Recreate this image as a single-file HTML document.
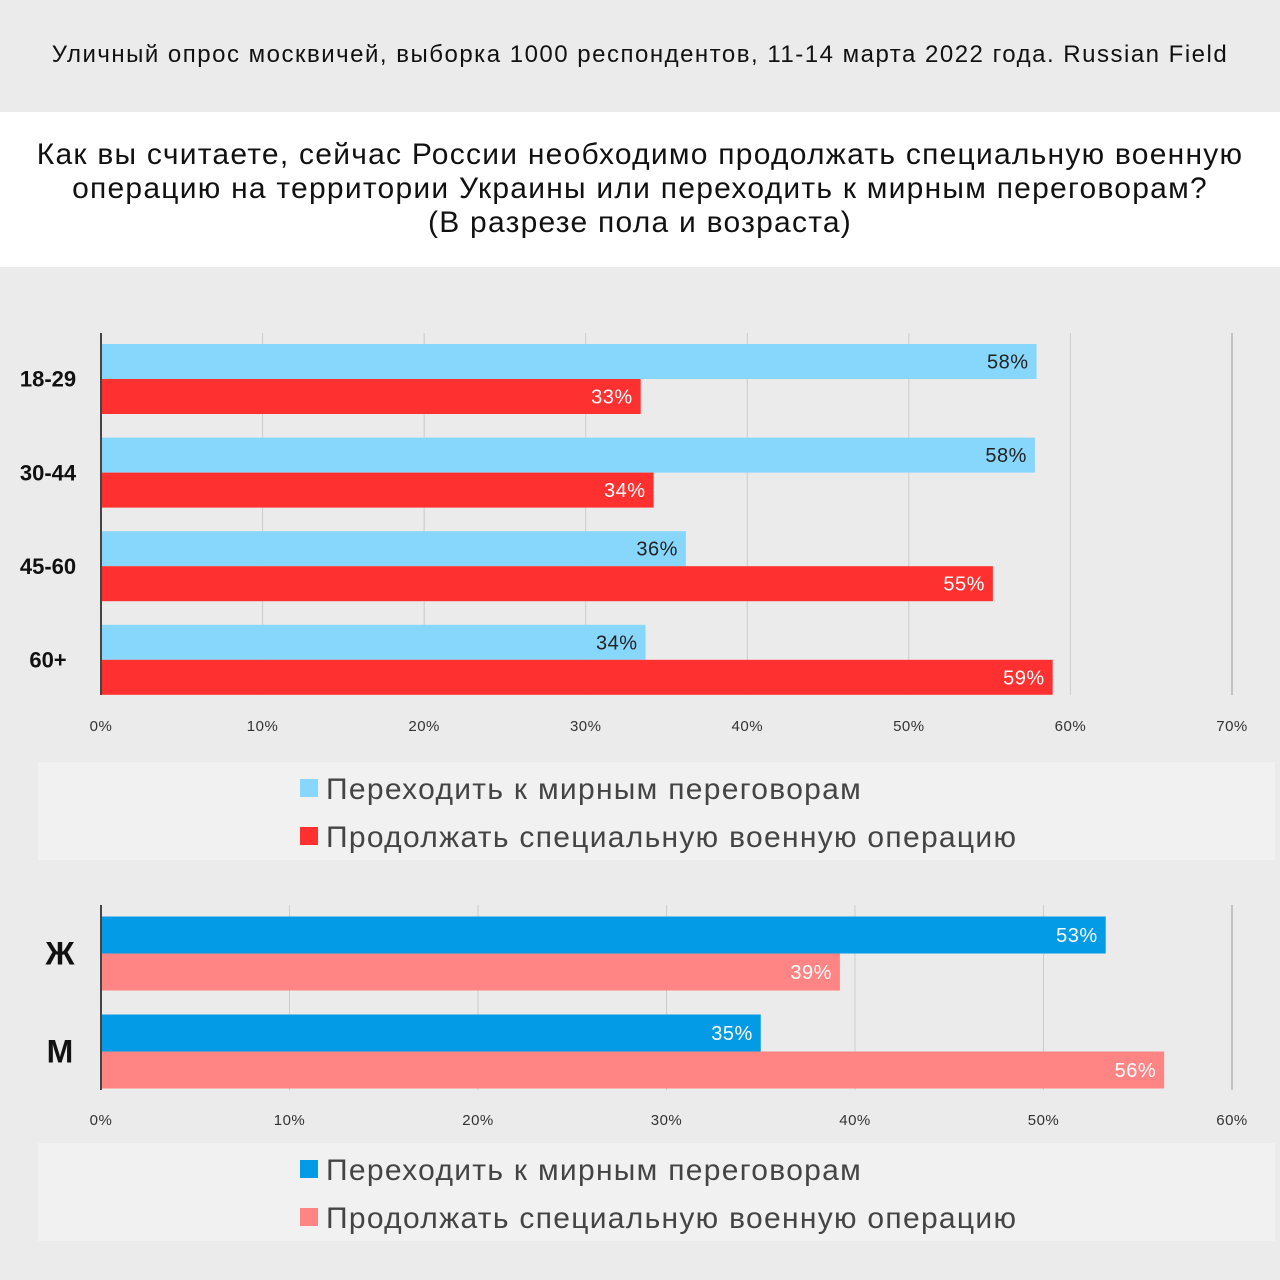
<!DOCTYPE html>
<html><head><meta charset="utf-8">
<style>
html,body{margin:0;padding:0;}
body{width:1280px;height:1280px;background:#ebebeb;font-family:"Liberation Sans","DejaVu Sans",sans-serif;position:relative;overflow:hidden;}
#top{position:absolute;left:0;top:0;width:1280px;height:112px;background:#ebebeb;}
#top div{position:absolute;left:0;width:1280px;top:41px;text-align:center;font-size:24px;letter-spacing:1.5px;color:#111;}
#titlebox{position:absolute;left:0;top:112px;width:1280px;height:155px;background:#fff;}
#titlebox div{position:absolute;top:26px;width:1280px;text-align:center;font-size:30px;line-height:34px;letter-spacing:1.25px;color:#111;}
svg{position:absolute;left:0;top:0;}
</style></head>
<body>
<div id="top"><div>Уличный опрос москвичей, выборка 1000 респондентов, 11-14 марта 2022 года. Russian Field</div></div>
<div id="titlebox"><div>Как вы считаете, сейчас России необходимо продолжать специальную военную<br>операцию на территории Украины или переходить к мирным переговорам?<br>(В разрезе пола и возраста)</div></div>
<svg id="svg" width="1280" height="1280" xmlns="http://www.w3.org/2000/svg"></svg>
<script>
const ageCats=["18-29","30-44","45-60","60+"];
const agePeace=[57.9,57.8,36.2,33.7];
const ageWar=[33.4,34.2,55.2,58.9];
const ageTicks=[0,10,20,30,40,50,60,70];
const sexCats=["Ж","М"];
const sexPeace=[53.3,35.0];
const sexWar=[39.2,56.4];
const sexTicks=[0,10,20,30,40,50,60];
const legendLabels=["Переходить к мирным переговорам","Продолжать специальную военную операцию"];

const svg=document.getElementById('svg');
const NS="http://www.w3.org/2000/svg";
function mk(tag,attrs,parent){const e=document.createElementNS(NS,tag);for(const k in attrs)e.setAttribute(k,attrs[k]);(parent||svg).appendChild(e);return e;}

function chart(o){
  const x=v=>o.x0+(v/o.max)*(o.x1-o.x0);
  o.ticks.forEach(t=>{
    const l=mk('line',{x1:x(t),x2:x(t),y1:o.top,y2:o.bottom,stroke:t===o.max?'#999':'#ccc','stroke-width':1});
    
    
    const tx=mk('text',{x:x(t),y:o.tickY,'text-anchor':'middle','font-size':15,'letter-spacing':0.5,fill:'#333'});
    tx.textContent=t+'%';
    
    
  });
  o.cats.forEach((c,i)=>{
    const cy=o.c0+i*o.step;
    const cl=mk('text',{x:o.labX,y:cy+o.labSize*0.35,'text-anchor':'middle','font-size':o.labSize,'font-weight':'bold',fill:'#111'});
    cl.textContent=c;
    
    
    [[o.a,o.ca,o.ta,cy-o.bh],[o.b,o.cb,o.tb,cy]].forEach(([arr,col,tc,y])=>{
      const v=arr[i];
      const r=mk('rect',{x:x(0),y:y,width:x(v)-x(0),height:o.bh,fill:col});
      
      
      const t=mk('text',{x:x(v)-8,y:y+o.bh/2+7,'text-anchor':'end','font-size':20,'letter-spacing':0.5,fill:tc});
      t.textContent=Math.round(v)+'%';
      
      
    });
  });
  const ax=mk('line',{x1:o.x0,x2:o.x0,y1:o.top,y2:o.bottom,stroke:'#444','stroke-width':2});
  
  
  const lb=mk('rect',{x:38,y:o.legY,width:1237,height:98,fill:'#f1f1f1'});
  
  
  [o.ca,o.cb].forEach((col,j)=>{
    const yy=o.legY+26+j*48;
    const s=mk('rect',{x:300,y:yy-9,width:18,height:18,fill:col});
    
    
    const t=mk('text',{x:326,y:yy+11,'font-size':30,'letter-spacing':1.3,fill:'#444'});
    t.textContent=legendLabels[j];
    
    
  });
}
chart({cats:ageCats,a:agePeace,b:ageWar,ticks:ageTicks,max:70,x0:101,x1:1232,top:333,bottom:695,tickY:731,c0:379,step:93.6,bh:35,ca:'#87d7fc',cb:'#ff3030',ta:'#222',tb:'#fff',labX:48,labSize:22,legY:762});
chart({cats:sexCats,a:sexPeace,b:sexWar,ticks:sexTicks,max:60,x0:101,x1:1232,top:905,bottom:1090,tickY:1125,c0:953.5,step:98,bh:37,ca:'#039be5',cb:'#ff8585',ta:'#fff',tb:'#fff',labX:60,labSize:32,legY:1143});
</script>
</body></html>
